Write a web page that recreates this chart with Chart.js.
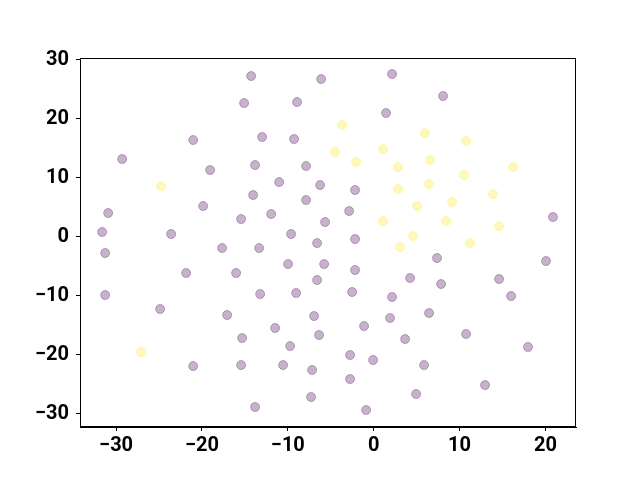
<!DOCTYPE html>
<html>
<head>
<meta charset="utf-8">
<script src="https://cdn.jsdelivr.net/npm/chart.js@4/dist/chart.umd.min.js"></script>
<style>
  html, body { margin: 0; padding: 0; background: #fff; }
  #wrap { width: 640px; height: 480px; }
</style>
</head>
<body>
<div id="wrap"><canvas id="c" width="640" height="480"></canvas></div>
<script>
// group 0 (purple) points
var purpleX = [-29.29, -21.02, -19.05, -14.27, -15.09, -6.12, 2.14, -8.92, 1.44, 8.08,
  -12.99, -9.27, -13.81, -7.87, -11.01, -30.92, -31.62, -31.27, -31.27, -19.86,
  -23.59, -17.65, -21.84, -15.44, -16.02, -6.24, -2.17, -14.04, -7.87, -2.86,
  -11.94, -5.66, -9.62, -6.59, -2.17, -13.34, -9.97, -5.77, -2.17, -6.59,
  -13.22, -9.03, -2.51, 2.14, -24.87, -17.07, -6.94, 1.91, -15.32, -11.48,
  -6.36, -1.12, -9.73, -15.44, -10.55, -7.17, -2.75, -0.07, -2.75, -7.29,
  -13.81, -0.88, -21.02, 20.88, 7.38, 20.07, 4.24, 7.85, 14.6, 16.0,
  6.45, 10.76, 3.66, 17.97, 5.87, 12.97, 4.94];
var purpleY = [13.17, 16.39, 11.31, 27.24, 22.66, 26.73, 27.58, 22.83, 20.97, 23.85,
  16.9, 16.56, 12.15, 11.98, 9.27, 4.02, 0.8, -2.76, -9.88, 5.2,
  0.46, -1.92, -6.15, 3.0, -6.15, 8.76, 7.92, 7.07, 6.22, 4.36,
  3.85, 2.49, 0.46, -1.07, -0.39, -1.92, -4.63, -4.63, -5.64, -7.34,
  -9.71, -9.54, -9.37, -10.22, -12.25, -13.27, -13.44, -13.78, -17.17, -15.47,
  -16.66, -15.14, -18.53, -21.75, -21.75, -22.59, -20.05, -20.9, -24.12, -27.17,
  -28.86, -29.37, -21.92, 3.34, -3.61, -4.12, -7.0, -8.02, -7.17, -10.05,
  -12.93, -16.49, -17.34, -18.69, -21.75, -25.14, -26.66];

// group 1 (yellow) points
var yellowX = [-3.68, -4.49, 1.09, -2.05, 2.84, 5.98, 10.76, 6.57, 10.52, 16.23,
  2.84, 6.45, 13.9, 5.05, 9.13, 8.43, 14.6, 4.59, 3.07, 11.22,
  1.09, -24.75, -27.07];
var yellowY = [18.93, 14.36, 14.86, 12.66, 11.81, 17.58, 16.22, 13.0, 10.46, 11.81,
  8.08, 8.93, 7.24, 5.2, 5.88, 2.66, 1.81, 0.12, -1.75, -1.07,
  2.66, 8.59, -19.54];

var xTicks = [-30, -20, -10, 0, 10, 20];
var yTicks = [-30, -20, -10, 0, 10, 20, 30];

function toPoints(xs, ys) {
  return xs.map(function (x, i) { return { x: x, y: ys[i] }; });
}

function fmt(v) {
  return v < 0 ? "\u2212" + Math.abs(v) : String(v);
}

var frame = {
  id: "frame",
  afterDraw: function (chart) {
    var a = chart.chartArea, ctx = chart.ctx;
    ctx.save();
    ctx.strokeStyle = "#000";
    ctx.lineWidth = 1;
    ctx.strokeRect(a.left + 0.5, a.top + 0.5, a.right - a.left - 1, a.bottom - a.top - 1);
    ctx.restore();
  }
};

var tickFont = { family: "Roboto", weight: "bold", size: 20 };

new Chart(document.getElementById("c").getContext("2d"), {
  type: "scatter",
  data: {
    datasets: [{
      data: toPoints(purpleX, purpleY),
      backgroundColor: "rgba(68,1,84,0.3)",
      borderColor: "rgba(68,1,84,0.3)",
      borderWidth: 1,
      pointRadius: 4.5
    }, {
      data: toPoints(yellowX, yellowY),
      backgroundColor: "rgba(253,231,37,0.3)",
      borderColor: "rgba(253,231,37,0.3)",
      borderWidth: 1,
      pointRadius: 4.5
    }]
  },
  options: {
    responsive: false,
    animation: false,
    layout: { padding: { left: 0, top: 58, right: 64, bottom: 0 } },
    plugins: { legend: { display: false }, tooltip: { enabled: false } },
    scales: {
      x: {
        type: "linear",
        min: -34.2,
        max: 23.56,
        afterBuildTicks: function (s) { s.ticks = xTicks.map(function (v) { return { value: v }; }); },
        afterFit: function (s) { s.height = 53; },
        grid: { drawOnChartArea: false, drawTicks: true, tickLength: 4, color: "#000" },
        border: { display: true, color: "#000", width: 1 },
        ticks: { color: "#000", font: tickFont, padding: 3, maxRotation: 0, callback: fmt }
      },
      y: {
        type: "linear",
        min: -32.25,
        max: 30.3,
        afterBuildTicks: function (s) { s.ticks = yTicks.map(function (v) { return { value: v }; }); },
        afterFit: function (s) { s.width = 80; },
        grid: { drawOnChartArea: false, drawTicks: true, tickLength: 4, color: "#000" },
        border: { display: true, color: "#000", width: 1 },
        ticks: { color: "#000", font: tickFont, padding: 7, callback: fmt }
      }
    }
  },
  plugins: [frame]
});
</script>
</body>
</html>
